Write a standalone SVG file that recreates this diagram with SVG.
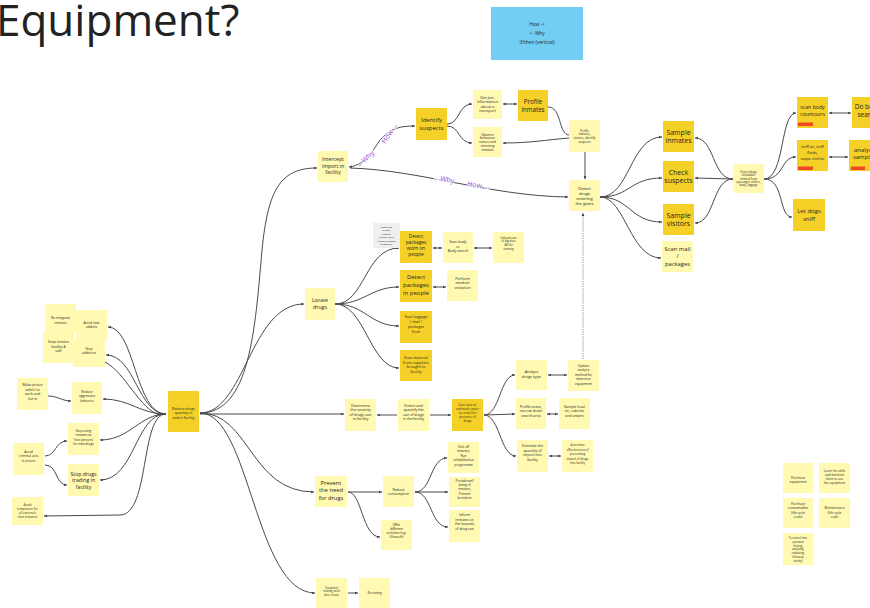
<svg xmlns="http://www.w3.org/2000/svg" width="870" height="608" viewBox="0 0 870 608">
<defs>
<marker id="ah" viewBox="0 0 6 6" refX="5.5" refY="3" markerWidth="3.4" markerHeight="3.4" orient="auto-start-reverse"><path d="M0,0.5 L6,3 L0,5.5 z" fill="#444"/></marker>
</defs>
<style>
.p{fill:#fff9b1}.d{fill:#f5d128}.w{fill:#efefef}.tag{fill:#f24726}
text{font-family:"Open Sans","Liberation Sans",sans-serif;fill:#1e1e1e;text-anchor:middle}
.c path{fill:none;stroke:#4a4a4a;stroke-width:1}
.c .e{marker-end:url(#ah)}
.c .b{marker-end:url(#ah);marker-start:url(#ah)}
.c .dot{stroke:#888;stroke-dasharray:1.2 1.2}
.lbl{fill:#9b3fcf;font-size:7px;text-anchor:start;stroke:#fff;stroke-width:1.5px;paint-order:stroke}
.f23{font-size:2.3px}.f26{font-size:2.6px}.f28{font-size:2.8px}.f3{font-size:3px}.f31{font-size:3.1px}.f32{font-size:3.2px}.f33{font-size:3.3px}.f35{font-size:3.5px}.f36{font-size:3.6px}.f38{font-size:3.8px}.f42{font-size:4.2px}.f48{font-size:4.8px}.f52{font-size:5.2px}.f58{font-size:5.8px}.f6{font-size:6px}.f62{font-size:6.2px}.f65{font-size:6.5px}.f7{font-size:7px}
</style>
<rect width="870" height="608" fill="#fff"/>
<text x="-4" y="36" style="font-size:44px;text-anchor:start;fill:#222">Equipment?</text>

<g id="legend"><rect x="491" y="7" width="92" height="53" fill="#72cff3"/>
<text class="f48"><tspan x="537" y="26">How -&gt;</tspan><tspan x="537" y="35">&lt;- Why</tspan><tspan x="537" y="44">if/then (vertical)</tspan></text></g>

<g class="c" id="connectors">
<path class="e" d="M166,414 C135,414 135,327 108,327"/>
<path class="e" d="M166,414 C138,414 135,355 106,355"/>
<path d="M105,362 C125,372 140,410 160,415"/>
<path class="e" d="M166,414 C140,414 130,399 103,399"/>
<path class="e" d="M166,414 C140,414 130,440 100,440"/>
<path class="e" d="M166,414 C135,414 135,480 100,480"/>
<path class="e" d="M166,414 C140,414 150,515 120,515 L44,516"/>
<path class="e" d="M48,396 C58,396 62,401 71,401"/>
<path class="e" d="M45,456 C56,456 55,441 67,441"/>
<path class="e" d="M45,465 C58,465 55,485 67,485"/>
<path class="e" d="M200,413 C250,413 255,330 262,250 C268,190 280,168 317,168"/>
<path class="e" d="M200,413 C245,413 250,304 304,304"/>
<path class="e" d="M200,414 L344,414"/>
<path class="e" d="M200,413 C250,413 250,492 314,492"/>
<path class="e" d="M200,413 C250,413 255,593 315,593"/>
<path class="b" d="M349,167 C368,165 375,145 382,138 C392,128 400,126 415,126"/>
<path class="e" d="M350,168 C420,170 490,196 568,197"/>
<path class="e" d="M447,124 C460,124 458,104 472,104"/>
<path class="e" d="M447,126 C460,126 458,143 472,143"/>
<path class="b" d="M503,104 L517,104"/>
<path d="M548,107 C562,107 558,134 569,135"/>
<path class="e" d="M569,138 C545,140 530,143 503,143"/>
<path class="e" d="M585,152 L585,179"/>
<path class="e dot" d="M583,359 L583,213"/>
<path class="e" d="M600,197 C630,197 630,137 662,137"/>
<path class="e" d="M600,197 C630,197 630,178 662,178"/>
<path class="e" d="M600,197 C630,197 630,222 662,222"/>
<path class="e" d="M600,197 C625,197 630,258 661,258"/>
<path class="e" d="M733,179 C712,179 715,138 695,138"/>
<path class="e" d="M733,179 L695,178"/>
<path class="e" d="M733,179 C712,179 715,223 695,223"/>
<path class="e" d="M764,179 C785,179 780,113 796,113"/>
<path class="e" d="M764,179 C785,179 780,157 796,157"/>
<path class="e" d="M764,179 C785,179 778,217 792,217"/>
<path class="b" d="M829,113 L851,113"/>
<path class="b" d="M829,157 L848,157"/>
<path class="e" d="M335,304 C365,304 365,248 399,248"/>
<path class="e" d="M335,304 C365,304 370,287 399,287"/>
<path class="e" d="M335,304 C365,304 370,326 399,326"/>
<path class="e" d="M335,304 C365,304 370,368 399,368"/>
<path class="b" d="M433,248 L442,248"/>
<path class="b" d="M474,248 L492,248"/>
<path class="b" d="M433,287 L446,287"/>
<path class="e" d="M397,415 L377,415"/>
<path class="e" d="M430,415 L451,415"/>
<path class="e" d="M484,415 C500,415 500,375 515,375"/>
<path class="e" d="M484,415 L515,414"/>
<path class="e" d="M484,415 C500,415 500,456 516,456"/>
<path class="b" d="M548,375 L567,375"/>
<path class="b" d="M547,414 L558,414"/>
<path class="b" d="M549,456 L561,456"/>
<path class="e" d="M348,492 L382,492"/>
<path class="e" d="M348,492 C362,492 362,537 380,537"/>
<path class="e" d="M415,492 C432,492 430,458 447,458"/>
<path class="e" d="M415,492 L448,492"/>
<path class="e" d="M415,492 C432,492 430,527 448,527"/>
<path class="e" d="M348,593 L358,593"/>
<text class="lbl" transform="translate(359,168) rotate(-42)">←Why</text>
<text class="lbl" transform="translate(385,144) rotate(-55)">How →</text>
<text class="lbl" transform="translate(433,180) rotate(9)">←Why</text>
<text class="lbl" transform="translate(467,186) rotate(9)">How →</text>
</g>

<g id="n_intercept"><rect class="p" x="318" y="151" width="30" height="31"/><text class="f52"><tspan x="333" y="161">Intercept</tspan><tspan x="333" y="167.5">import in</tspan><tspan x="333" y="174">facility</tspan></text></g>
<g id="n_identify"><rect class="d" x="416" y="108" width="31" height="32"/><text class="f6"><tspan x="431.5" y="122">Identify</tspan><tspan x="431.5" y="129.5">suspects</tspan></text></g>
<g id="n_preinfo"><rect class="p" x="473" y="90" width="29" height="29"/><text class="f38"><tspan x="487.5" y="98.5">Get pre-</tspan><tspan x="487.5" y="103">information</tspan><tspan x="487.5" y="107.5">about a</tspan><tspan x="487.5" y="112">transport</tspan></text></g>
<g id="n_profile"><rect class="d" x="518" y="90" width="30" height="31"/><text class="f62"><tspan x="533" y="103.5">Profile</tspan><tspan x="533" y="111.5">inmates</tspan></text></g>
<g id="n_observe"><rect class="p" x="473" y="127" width="29" height="30"/><text class="f32"><tspan x="487.5" y="135.5">Observe</tspan><tspan x="487.5" y="139.4">behaviour</tspan><tspan x="487.5" y="143.3">visitors and</tspan><tspan x="487.5" y="147.2">returning</tspan><tspan x="487.5" y="151.1">inmates</tspan></text></g>
<g id="n_profvis"><rect class="p" x="569" y="120" width="31" height="32"/><text class="f3"><tspan x="584.5" y="131.5">Profile</tspan><tspan x="584.5" y="135.3">inmates,</tspan><tspan x="584.5" y="139.1">visitors, identify</tspan><tspan x="584.5" y="142.9">suspects</tspan></text></g>
<g id="n_gates"><rect class="p" x="569" y="180" width="31" height="31"/><text class="f42"><tspan x="584.5" y="189.5">Detect</tspan><tspan x="584.5" y="194.5">drugs</tspan><tspan x="584.5" y="199.5">entering</tspan><tspan x="584.5" y="204.5">the gates</tspan></text></g>
<g id="n_sinm"><rect class="d" x="663" y="121" width="31" height="31"/><text class="f7"><tspan x="678.5" y="134.5">Sample</tspan><tspan x="678.5" y="143">inmates</tspan></text></g>
<g id="n_check"><rect class="d" x="663" y="161" width="31" height="31"/><text class="f7"><tspan x="678.5" y="174.5">Check</tspan><tspan x="678.5" y="183">suspects</tspan></text></g>
<g id="n_svis"><rect class="d" x="663" y="204" width="31" height="31"/><text class="f7"><tspan x="678.5" y="217.5">Sample</tspan><tspan x="678.5" y="226">visitors</tspan></text></g>
<g id="n_mail"><rect class="p" x="662" y="241" width="31" height="31"/><text class="f58"><tspan x="677.5" y="250.5">Scan mail</tspan><tspan x="677.5" y="258">/</tspan><tspan x="677.5" y="265.5">packages</tspan></text></g>
<g id="n_incl"><rect class="p" x="733" y="164" width="31" height="29"/><text class="f28"><tspan x="748.5" y="172.7">Detect drugs</tspan><tspan x="748.5" y="176.1">includable</tspan><tspan x="748.5" y="179.5">omitted from</tspan><tspan x="748.5" y="182.9">passenger clothes,</tspan><tspan x="748.5" y="186.3">body, luggage</tspan></text></g>
<g id="n_scanbody"><rect class="d" x="797" y="97" width="31" height="31"/><rect class="tag" x="798" y="122.5" width="15" height="3.5"/><text class="f52"><tspan x="812.5" y="108.5">scan body</tspan><tspan x="812.5" y="115.5">countours</tspan></text></g>
<g id="n_dobody"><rect class="d" x="852" y="97" width="31" height="31"/><text class="f65"><tspan x="867.5" y="109">Do body</tspan><tspan x="867.5" y="117">search</tspan></text></g>
<g id="n_sniff"><rect class="d" x="797" y="140" width="31" height="31"/><rect class="tag" x="798" y="166.5" width="15" height="3.5"/><text class="f38"><tspan x="812.5" y="148">sniff air, sniff</tspan><tspan x="812.5" y="154">fluids,</tspan><tspan x="812.5" y="160">swipe clothes</tspan></text></g>
<g id="n_analyse"><rect class="d" x="849" y="140" width="31" height="31"/><rect class="tag" x="851" y="166.5" width="14" height="3.5"/><text class="f6"><tspan x="864.5" y="152">analyse</tspan><tspan x="864.5" y="159">samples</tspan></text></g>
<g id="n_dogs"><rect class="d" x="793" y="199" width="32" height="32"/><text class="f6"><tspan x="809" y="213">Let dogs</tspan><tspan x="809" y="220.5">sniff</tspan></text></g>
<g id="n_locate"><rect class="p" x="305" y="288" width="30" height="32"/><text class="f52"><tspan x="320" y="302">Locate</tspan><tspan x="320" y="308.5">drugs</tspan></text></g>
<g id="n_note"><rect class="w" x="373" y="223" width="27" height="25"/><text class="f23"><tspan x="386.5" y="228">People use</tspan><tspan x="386.5" y="231.4">private</tspan><tspan x="386.5" y="234.8">property</tspan><tspan x="386.5" y="238.2">(clothes, bags,</tspan><tspan x="386.5" y="241.6">luggage, phones)</tspan><tspan x="386.5" y="245">to smuggle</tspan></text></g>
<g id="n_worn"><rect class="d" x="400" y="231" width="32" height="32"/><text class="f48"><tspan x="416" y="238">Detect</tspan><tspan x="416" y="244">packages</tspan><tspan x="416" y="250">worn on</tspan><tspan x="416" y="256">people</tspan></text></g>
<g id="n_scanor"><rect class="p" x="443" y="232" width="30" height="31"/><text class="f36"><tspan x="458" y="243">Scan body</tspan><tspan x="458" y="247.5">or</tspan><tspan x="458" y="252">Body search</tspan></text></g>
<g id="n_upload"><rect class="p" x="493" y="232" width="31" height="31"/><text class="f28"><tspan x="508.5" y="238.5">Upload scan</tspan><tspan x="508.5" y="242">to big data</tspan><tspan x="508.5" y="245.5">(AI) for</tspan><tspan x="508.5" y="249.5">training</tspan><tspan x="508.5" y="254">...</tspan></text></g>
<g id="n_inpeople"><rect class="d" x="400" y="270" width="32" height="32"/><text class="f6"><tspan x="416" y="279">Detect</tspan><tspan x="416" y="287">packages</tspan><tspan x="416" y="295">in people</tspan></text></g>
<g id="n_medical"><rect class="p" x="447" y="270" width="31" height="31"/><text class="f38"><tspan x="462.5" y="279.5">Perform</tspan><tspan x="462.5" y="284">medical</tspan><tspan x="462.5" y="288.5">visitation</tspan></text></g>
<g id="n_luggage"><rect class="d" x="400" y="311" width="32" height="32"/><text class="f38"><tspan x="416" y="317.5">Scan luggage</tspan><tspan x="416" y="322.5">/ mail /</tspan><tspan x="416" y="327.5">packages</tspan><tspan x="416" y="333">from</tspan></text></g>
<g id="n_material"><rect class="d" x="400" y="350" width="32" height="31"/><text class="f38"><tspan x="416" y="359">Scan material</tspan><tspan x="416" y="363.5">from suppliers</tspan><tspan x="416" y="368">brought to</tspan><tspan x="416" y="372.5">facility</tspan></text></g>
<g id="n_analysetype"><rect class="p" x="516" y="360" width="31" height="30"/><text class="f38"><tspan x="531.5" y="373">Analyse</tspan><tspan x="531.5" y="378">drugs type</tspan></text></g>
<g id="n_update"><rect class="p" x="568" y="360" width="31" height="31"/><text class="f33"><tspan x="583.5" y="366.5">Update</tspan><tspan x="583.5" y="371">analysis</tspan><tspan x="583.5" y="375.5">method for</tspan><tspan x="583.5" y="380">detection</tspan><tspan x="583.5" y="384.5">equipment</tspan></text></g>
<g id="n_reduce"><rect class="d" x="168" y="391" width="31" height="41"/><text class="f36"><tspan x="183.5" y="409.5">Reduce drugs</tspan><tspan x="183.5" y="414">quantity in</tspan><tspan x="183.5" y="418.5">and in facility</tspan></text></g>
<g id="n_determine"><rect class="p" x="345" y="399" width="31" height="32"/><text class="f38"><tspan x="360.5" y="406.5">Determine</tspan><tspan x="360.5" y="411">the severity</tspan><tspan x="360.5" y="415.5">of drugs use</tspan><tspan x="360.5" y="420">in facility</tspan></text></g>
<g id="n_quantify"><rect class="p" x="398" y="399" width="31" height="32"/><text class="f36"><tspan x="413.5" y="406.5">Detect and</tspan><tspan x="413.5" y="411">quantify the</tspan><tspan x="413.5" y="415.5">use of drugs</tspan><tspan x="413.5" y="420">in the facility</tspan></text></g>
<g id="n_spot"><rect class="d" x="452" y="399" width="31" height="32"/><text class="f3"><tspan x="467.5" y="405.5">Scan spot air</tspan><tspan x="467.5" y="409.5">and waste water</tspan><tspan x="467.5" y="413.5">(or urine) for</tspan><tspan x="467.5" y="417.5">presence of</tspan><tspan x="467.5" y="421.5">drugs</tspan></text></g>
<g id="n_areas"><rect class="p" x="516" y="398" width="30" height="31"/><text class="f36"><tspan x="531" y="408">Profile areas,</tspan><tspan x="531" y="412.3">narrow down</tspan><tspan x="531" y="416.6">search area</tspan></text></g>
<g id="n_local"><rect class="p" x="559" y="398" width="31" height="31"/><text class="f36"><tspan x="574.5" y="408">Sample local</tspan><tspan x="574.5" y="412.3">air, cubicles</tspan><tspan x="574.5" y="416.6">and sewers</tspan></text></g>
<g id="n_estimate"><rect class="p" x="517" y="440" width="31" height="32"/><text class="f36"><tspan x="532.5" y="447">Estimate the</tspan><tspan x="532.5" y="451.5">quantity of</tspan><tspan x="532.5" y="456">import into</tspan><tspan x="532.5" y="460.5">facility</tspan></text></g>
<g id="n_effect"><rect class="p" x="562" y="440" width="31" height="32"/><text class="f3"><tspan x="577.5" y="446">determine</tspan><tspan x="577.5" y="450.5">effectiveness of</tspan><tspan x="577.5" y="455">preventing</tspan><tspan x="577.5" y="459.5">import of drugs</tspan><tspan x="577.5" y="464">into facility</tspan></text></g>
<g id="n_kick"><rect class="p" x="448" y="442" width="31" height="31"/><text class="f33"><tspan x="463.5" y="447.5">Kick off</tspan><tspan x="463.5" y="452">inmates,</tspan><tspan x="463.5" y="456.5">Run</tspan><tspan x="463.5" y="461">rehabilitation</tspan><tspan x="463.5" y="465.5">programme</tspan></text></g>
<g id="n_prevent"><rect class="p" x="315" y="476" width="32" height="31"/><text class="f58"><tspan x="331" y="484.5">Prevent</tspan><tspan x="331" y="492">the need</tspan><tspan x="331" y="499.5">for drugs</tspan></text></g>
<g id="n_consume"><rect class="p" x="383" y="476" width="31" height="31"/><text class="f35"><tspan x="398.5" y="490.5">Reduce</tspan><tspan x="398.5" y="495">consumption</tspan></text></g>
<g id="n_provide"><rect class="p" x="449" y="477" width="31" height="30"/><text class="f32"><tspan x="464.5" y="482">Provide well</tspan><tspan x="464.5" y="486.2">being of</tspan><tspan x="464.5" y="490.4">inmates,</tspan><tspan x="464.5" y="494.6">Prevent</tspan><tspan x="464.5" y="498.8">boredom</tspan></text></g>
<g id="n_inform"><rect class="p" x="449" y="510" width="31" height="32"/><text class="f35"><tspan x="464.5" y="516">Inform</tspan><tspan x="464.5" y="520.7">inmates on</tspan><tspan x="464.5" y="525.4">the hazards</tspan><tspan x="464.5" y="530">of drug use</tspan></text></g>
<g id="n_offer"><rect class="p" x="381" y="520" width="31" height="30"/><text class="f32"><tspan x="396.5" y="525.5">Offer</tspan><tspan x="396.5" y="529.7">different</tspan><tspan x="396.5" y="533.9">activities (e.g.</tspan><tspan x="396.5" y="538.1">Ultrasoft)</tspan></text></g>
<g id="n_bottom"><rect class="p" x="316" y="578" width="31" height="30"/><text class="f26"><tspan x="331.5" y="589">Vocational</tspan><tspan x="331.5" y="592.3">training, work</tspan><tspan x="331.5" y="595.6">after release</tspan></text></g>
<g id="n_recruit"><rect class="p" x="359" y="578" width="31" height="30"/><text class="f3"><tspan x="374.5" y="594">Recruiting</tspan></text></g>
<g id="n_reint"><rect class="p" x="45" y="304" width="31" height="29"/><text class="f33"><tspan x="60.5" y="319">Re-integrate</tspan><tspan x="60.5" y="323.5">inmates</tspan></text></g>
<g id="n_addicts"><rect class="p" x="76" y="310" width="31" height="30"/><text class="f33"><tspan x="91.5" y="323.5">Avoid new</tspan><tspan x="91.5" y="328">addicts</tspan></text></g>
<g id="n_healthy"><rect class="p" x="43" y="333" width="31" height="30"/><text class="f33"><tspan x="58.5" y="343">Keep inmates</tspan><tspan x="58.5" y="347.5">healthy &amp;</tspan><tspan x="58.5" y="352">safe</tspan></text></g>
<g id="n_stopadd"><rect class="p" x="73" y="340" width="32" height="27"/><text class="f33"><tspan x="89" y="349.5">Stop</tspan><tspan x="89" y="354">addiction</tspan></text></g>
<g id="n_safe"><rect class="p" x="17" y="378" width="31" height="32"/><text class="f35"><tspan x="32.5" y="386">Make prison</tspan><tspan x="32.5" y="390.5">safe(r) to</tspan><tspan x="32.5" y="395">work and</tspan><tspan x="32.5" y="399.5">live in</tspan></text></g>
<g id="n_aggr"><rect class="p" x="72" y="382" width="30" height="32"/><text class="f33"><tspan x="87" y="393">Reduce</tspan><tspan x="87" y="397.3">aggressive</tspan><tspan x="87" y="401.6">behavior</tspan></text></g>
<g id="n_test"><rect class="p" x="68" y="423" width="31" height="32"/><text class="f32"><tspan x="83.5" y="432">Stop using</tspan><tspan x="83.5" y="436.3">inmates as</tspan><tspan x="83.5" y="440.6">'test persons'</tspan><tspan x="83.5" y="444.9">for new drugs</tspan></text></g>
<g id="n_criminal"><rect class="p" x="13" y="443" width="31" height="32"/><text class="f33"><tspan x="28.5" y="452.5">Avoid</tspan><tspan x="28.5" y="457">criminal acts</tspan><tspan x="28.5" y="461.5">in prison</tspan></text></g>
<g id="n_trading"><rect class="p" x="68" y="464" width="31" height="32"/><text class="f52"><tspan x="83.5" y="475.5">Stop drugs</tspan><tspan x="83.5" y="482">trading in</tspan><tspan x="83.5" y="488.5">facility</tspan></text></g>
<g id="n_tempt"><rect class="p" x="12" y="497" width="31" height="28"/><text class="f3"><tspan x="27.5" y="505.5">Avoid</tspan><tspan x="27.5" y="509.7">temptation for</tspan><tspan x="27.5" y="513.9">all externals</tspan><tspan x="27.5" y="518.1">(non-inmates)</tspan></text></g>
<g id="n_purchase"><rect class="p" x="783" y="463" width="30" height="30"/><text class="f33"><tspan x="798" y="478.5">Purchase</tspan><tspan x="798" y="483">equipment</tspan></text></g>
<g id="n_learn"><rect class="p" x="819" y="463" width="31" height="30"/><text class="f31"><tspan x="834.5" y="471.5">Learn the skills</tspan><tspan x="834.5" y="475.8">and maintain</tspan><tspan x="834.5" y="480.1">them to use</tspan><tspan x="834.5" y="484.4">the equipment</tspan></text></g>
<g id="n_consumables"><rect class="p" x="783" y="498" width="30" height="30"/><text class="f33"><tspan x="798" y="504.5">Purchase</tspan><tspan x="798" y="509">consumables</tspan><tspan x="798" y="513.5">(life cycle</tspan><tspan x="798" y="518">costs)</tspan></text></g>
<g id="n_maint"><rect class="p" x="819" y="498" width="31" height="30"/><text class="f33"><tspan x="834.5" y="509">Maintenance</tspan><tspan x="834.5" y="513.5">(life cycle</tspan><tspan x="834.5" y="518">cost)</tspan></text></g>
<g id="n_personnel"><rect class="p" x="783" y="533" width="30" height="32"/><text class="f26"><tspan x="798" y="539">Personnel time</tspan><tspan x="798" y="542.8">operation</tspan><tspan x="798" y="546.6">(testing,</tspan><tspan x="798" y="550.4">analysing,</tspan><tspan x="798" y="554.2">evaluating,</tspan><tspan x="798" y="558">follow-up</tspan><tspan x="798" y="561.8">activity)</tspan></text></g>
</svg>
